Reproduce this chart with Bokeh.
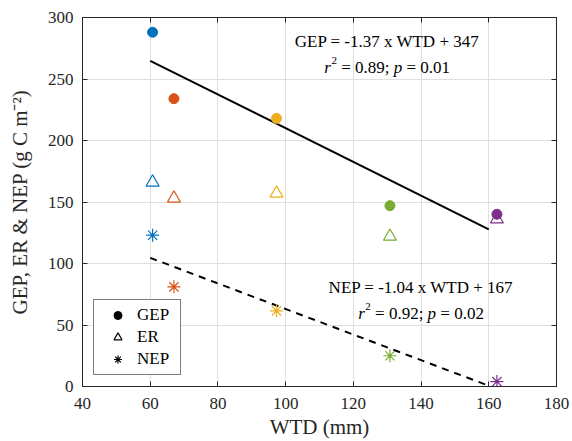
from bokeh.plotting import figure
from bokeh.models import (Range1d, LinearAxis, FixedTicker, CustomJSTickFormatter,
                          Label, Legend, LegendItem, ColumnDataSource)
from bokeh.embed import file_html
from bokeh.resources import INLINE

# ---------------- data ----------------
sites_colors = ["#0072BD", "#D95319", "#EDB120", "#77AC30", "#7E2F8E"]
wtd = [60.7, 67.0, 97.3, 130.8, 162.4]
gep = [288, 234, 218, 147, 140]
er = [166, 153, 157, 122, 136]
nep = [123, 81, 61.5, 25, 4]

gep_slope, gep_intercept = -1.37, 347
nep_slope, nep_intercept = -1.04, 167
fit_x = [60, 160]

x_ticks = [40, 60, 80, 100, 120, 140, 160, 180]
y_ticks = [0, 50, 100, 150, 200, 250, 300]

gep_eq = "GEP = -1.37 x WTD + 347"
gep_r2, gep_p = "0.89", "0.01"
nep_eq = "NEP = -1.04 x WTD + 167"
nep_r2, nep_p = "0.92", "0.02"

FONT = "Liberation Serif"
AX = "#262626"

p = figure(width=572, height=441, output_backend="svg", toolbar_location=None,
           x_range=Range1d(40, 180), y_range=Range1d(0, 300),
           min_border_left=82, min_border_right=16, min_border_top=17, min_border_bottom=55,
           x_axis_label="WTD (mm)", y_axis_label="GEP, ER & NEP (g C m⁻²)")
p.background_fill_color = "white"
p.border_fill_color = "white"
p.outline_line_color = AX

for ax, ticks in ((p.xaxis[0], x_ticks), (p.yaxis[0], y_ticks)):
    ax.ticker = FixedTicker(ticks=ticks)
    ax.major_tick_in = 5
    ax.major_tick_out = 0
    ax.minor_tick_line_color = None
    ax.axis_line_color = AX
    ax.major_tick_line_color = AX
    ax.major_label_text_font = FONT
    ax.major_label_text_font_size = "17px"
    ax.major_label_text_color = AX
    ax.axis_label_text_font = FONT
    ax.axis_label_text_font_size = "21px"
    ax.axis_label_text_font_style = "normal"
    ax.axis_label_text_color = AX
p.xaxis[0].major_label_standoff = 11
p.xaxis[0].axis_label_standoff = 3
p.yaxis[0].major_label_standoff = 9
p.yaxis[0].axis_label_standoff = 13

blank = CustomJSTickFormatter(code="return ''")
for loc, ticks in (("right", y_ticks), ("above", x_ticks)):
    a = LinearAxis(ticker=FixedTicker(ticks=ticks), formatter=blank,
                   major_tick_in=5, major_tick_out=0, minor_tick_line_color=None,
                   axis_line_color=AX, major_tick_line_color=AX, major_label_standoff=0)
    p.add_layout(a, loc)

p.xgrid.ticker = FixedTicker(ticks=x_ticks)
p.ygrid.ticker = FixedTicker(ticks=y_ticks)
p.grid.grid_line_color = "#dfdfdf"
p.grid.grid_line_width = 1

# regression lines
gep_fit_y = [gep_slope * x + gep_intercept for x in fit_x]
nep_fit_y = [nep_slope * x + nep_intercept for x in fit_x]
p.line(fit_x, gep_fit_y, line_color="black", line_width=2)
p.line(fit_x, nep_fit_y, line_color="black", line_width=2, line_dash="7 6")

src = ColumnDataSource(dict(x=wtd, gep=gep, er=er, nep=nep, c=sites_colors))
p.scatter("x", "gep", source=src, marker="circle", size=10, fill_color="c", line_color="c")
p.scatter("x", "er", source=src, marker="triangle", size=13, fill_color=None,
          line_color="c", line_width=1.2)
p.scatter("x", "nep", source=src, marker="asterisk", size=13, line_color="c", line_width=1.2)

# legend with black proxies (one off-plot NaN point each, so nothing shows in the axes)
proxy = ColumnDataSource(dict(x=[float("nan")], y=[float("nan")]))
r1 = p.scatter("x", "y", source=proxy, marker="circle", size=6, fill_color="black", line_color="black")
r2 = p.scatter("x", "y", source=proxy, marker="triangle", size=8, fill_color=None, line_color="black", line_width=1.2)
r3 = p.scatter("x", "y", source=proxy, marker="asterisk", size=8, line_color="black", line_width=1.2)
legend = Legend(items=[LegendItem(label="GEP", renderers=[r1]),
                       LegendItem(label="ER", renderers=[r2]),
                       LegendItem(label="NEP", renderers=[r3])],
                location=(11, 11), padding=5, spacing=2, glyph_width=37, glyph_height=20,
                label_height=20, label_standoff=1, label_width=38,
                label_text_font=FONT, label_text_font_size="17px", label_text_color="black",
                border_line_color="black", border_line_width=1, background_fill_color="white",
                background_fill_alpha=1, margin=0)
p.add_layout(legend, "center")

# annotations
W = {"r": 0.389, "p": 0.5, " ": 0.25, "=": 0.564, ".": 0.25, ";": 0.278, "-": 0.333}
def tw(s, size):
    return sum(W.get(ch, 0.5) for ch in s) * size

def eq_block(x, y, eq, r2, pv):
    p.add_layout(Label(x=x, y=y + 21, text=eq, text_align="center", text_baseline="alphabetic",
                       text_font=FONT, text_font_size="17px", text_color="black"))
    pieces = [("r", "italic", 17, 0, 0.0),
              ("2", "normal", 11, 7, 0.5),
              ("= " + r2 + ";", "normal", 17, 0, tw(" ", 17)),
              ("p", "italic", 17, 0, tw(" ", 17)),
              ("= " + pv, "normal", 17, 0, tw(" ", 17))]
    total = 0
    offs = []
    for txt, st, sz, dy, gap in pieces:
        total += gap
        offs.append(total)
        total += tw(txt, sz) if txt not in ("r", "p") else W[txt] * sz
    start = -total / 2
    for (txt, st, sz, dy, gap), o in zip(pieces, offs):
        p.add_layout(Label(x=x, y=y, x_offset=start + o, y_offset=dy, text=txt,
                           text_align="left", text_baseline="alphabetic",
                           text_font=FONT, text_font_style=st, text_font_size=f"{sz}px",
                           text_color="black"))

eq_block(130, 259.6, gep_eq, gep_r2, gep_p)
eq_block(140, 59.2, nep_eq, nep_r2, nep_p)

open("out.html", "w").write(file_html(p, INLINE))
